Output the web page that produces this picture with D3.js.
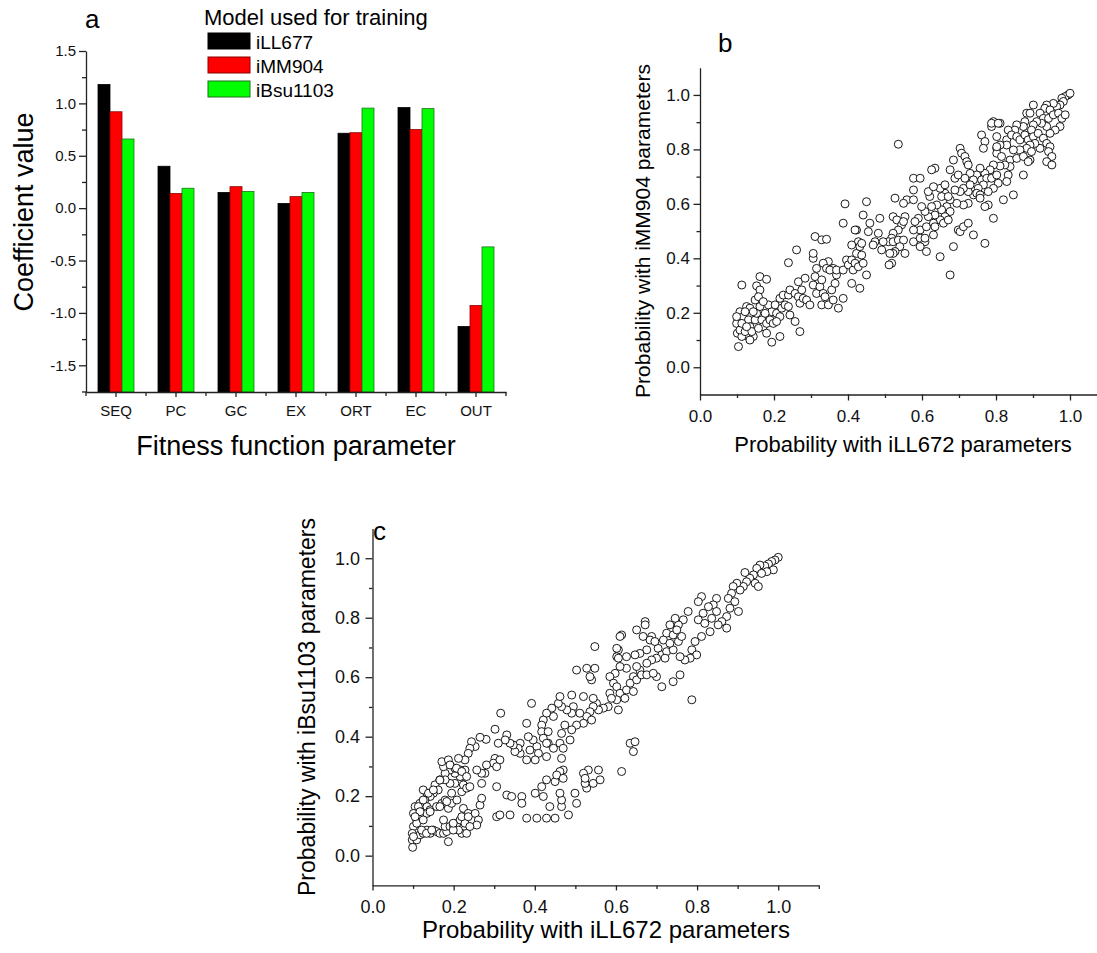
<!DOCTYPE html>
<html>
<head>
<meta charset="utf-8">
<style>
body { margin: 0; background: #fff; }
svg { font-family: "Liberation Sans", Arial, Helvetica, sans-serif; }
</style>
</head>
<body>
<svg width="1097" height="953"></svg>
<script src="https://d3js.org/d3.v7.min.js"></script>
<script>
// panel a: coefficients per fitness function parameter
var categories = ["SEQ", "PC", "GC", "EX", "ORT", "EC", "OUT"];
var models = ["iLL677", "iMM904", "iBsu1103"];
var iLL677 = [1.18, 0.40, 0.15, 0.045, 0.715, 0.96, -1.13];
var iMM904 = [0.92, 0.14, 0.205, 0.11, 0.72, 0.75, -0.93];
var iBsu1103 = [0.66, 0.19, 0.16, 0.15, 0.955, 0.95, -0.37];
var fills = ["#000000", "#ff0000", "#00ff00"];
var edges = ["#000000", "#8a0000", "#1f6f1f"];
var coefTicks = [-1.5, -1.0, -0.5, 0.0, 0.5, 1.0, 1.5];
var coefMinor = [-1.75, -1.25, -0.75, -0.25, 0.25, 0.75, 1.25];
var probTicks = [0.0, 0.2, 0.4, 0.6, 0.8, 1.0];
var probMinorX = [0.1, 0.3, 0.5, 0.7, 0.9, 1.1];
var probMinorY = [0.1, 0.3, 0.5, 0.7, 0.9];

// panel b: [iLL672, iMM904]
var probB = [
[0.104,0.076],[0.099,0.161],[0.101,0.125],[0.108,0.204],[0.117,0.186],[0.126,0.223],[0.135,0.217],[0.131,0.174],[0.135,0.149],[0.131,0.113],
[0.144,0.113],[0.135,0.100],[0.113,0.113],[0.149,0.174],[0.153,0.198],[0.162,0.223],[0.167,0.174],[0.171,0.149],[0.180,0.161],[0.189,0.174],
[0.194,0.204],[0.185,0.229],[0.203,0.229],[0.207,0.198],[0.216,0.186],[0.221,0.217],[0.230,0.229],[0.239,0.223],[0.243,0.192],[0.257,0.168],
[0.216,0.253],[0.225,0.265],[0.239,0.265],[0.243,0.284],[0.257,0.271],[0.266,0.259],[0.270,0.235],[0.279,0.253],[0.288,0.247],[0.297,0.229],
[0.275,0.284],[0.266,0.314],[0.284,0.327],[0.306,0.302],[0.315,0.271],[0.324,0.296],[0.311,0.333],[0.329,0.321],[0.333,0.271],[0.338,0.259],
[0.329,0.229],[0.347,0.229],[0.360,0.247],[0.374,0.217],[0.387,0.253],[0.356,0.284],[0.365,0.308],[0.369,0.339],[0.360,0.363],[0.347,0.388],
[0.333,0.382],[0.315,0.363],[0.306,0.400],[0.306,0.418],[0.311,0.480],[0.329,0.468],[0.342,0.470],[0.342,0.363],[0.351,0.357],[0.369,0.357],
[0.387,0.357],[0.396,0.394],[0.401,0.376],[0.410,0.394],[0.414,0.357],[0.423,0.418],[0.419,0.382],[0.428,0.369],
[0.410,0.308],[0.432,0.290],[0.387,0.529],[0.392,0.600],[0.423,0.504],[0.428,0.461],[0.432,0.443],[0.410,0.449],[0.419,0.504],
[0.162,0.333],[0.180,0.323],[0.153,0.299],[0.162,0.284],[0.113,0.302],[0.149,0.247],[0.158,0.259],[0.171,0.241],[0.180,0.125],[0.194,0.092],
[0.216,0.113],[0.270,0.131],[0.239,0.384],[0.261,0.431],[0.198,0.161],
[0.108,0.137],[0.122,0.131],[0.140,0.131],[0.158,0.143],[0.144,0.204],[0.176,0.198],[0.122,0.204],[0.099,0.186],[0.113,0.161],[0.126,0.149],[0.207,0.168],
[0.995,1.000],[0.987,0.994],[0.978,0.988],[1.000,1.006],[0.982,0.976],[0.973,0.963],[0.964,0.957],[0.955,0.969],[0.937,0.963],[0.932,0.951],
[0.946,0.945],[0.901,0.963],[0.883,0.933],[0.892,0.933],[0.919,0.933],[0.928,0.914],[0.942,0.914],[0.955,0.927],[0.969,0.933],[0.978,0.914],
[0.987,0.927],[0.973,0.884],[0.960,0.871],[0.946,0.859],[0.937,0.884],[0.923,0.896],[0.910,0.902],[0.901,0.890],[0.896,0.871],[0.878,0.902],
[0.874,0.884],[0.856,0.890],[0.851,0.871],[0.833,0.871],[0.811,0.896],[0.793,0.902],[0.788,0.884],[0.802,0.847],[0.829,0.835],[0.842,0.853],
[0.856,0.847],[0.865,0.835],[0.878,0.853],[0.887,0.835],[0.901,0.847],[0.914,0.859],[0.928,0.841],[0.937,0.822],[0.946,0.810],[0.942,0.792],
[0.951,0.774],[0.937,0.755],[0.951,0.743],[0.919,0.804],[0.905,0.822],[0.892,0.816],[0.883,0.804],[0.865,0.798],[0.847,0.798],[0.829,0.816],
[0.811,0.816],[0.802,0.804],[0.802,0.786],[0.815,0.774],[0.838,0.761],[0.856,0.767],[0.874,0.774],[0.892,0.761],[0.896,0.792],[0.887,0.755],
[0.874,0.706],[0.838,0.737],[0.824,0.743],[0.811,0.739],[0.793,0.743],[0.784,0.725],[0.770,0.712],[0.757,0.731],[0.748,0.706],[0.761,0.688],
[0.775,0.694],[0.788,0.694],[0.802,0.706],[0.806,0.676],[0.833,0.706],[0.829,0.682],[0.793,0.657],[0.779,0.645],[0.766,0.670],[0.752,0.657],
[0.739,0.633],[0.725,0.645],[0.712,0.657],[0.703,0.645],[0.689,0.694],[0.698,0.706],[0.689,0.651],[0.676,0.725],[0.685,0.761],[0.703,0.804],
[0.707,0.786],[0.716,0.774],[0.721,0.755],[0.725,0.743],[0.761,0.853],[0.770,0.829],[0.766,0.804],[0.788,0.896],[0.806,0.896],[0.802,0.810],
[0.730,0.712],[0.716,0.694],[0.739,0.688],[0.730,0.670],[0.748,0.639],[0.757,0.633],[0.779,0.596],[0.770,0.590],[0.757,0.621],[0.820,0.615],
[0.847,0.633],[0.793,0.547],[0.725,0.602],[0.712,0.596],[0.694,0.602],[0.676,0.615],[0.662,0.639],[0.649,0.657],[0.653,0.627],[0.667,0.590],
[0.653,0.578],[0.640,0.596],[0.626,0.590],[0.621,0.627],[0.617,0.645],[0.631,0.663],[0.635,0.731],[0.626,0.725],[0.662,0.670],[0.671,0.627],
[0.676,0.572],[0.662,0.553],[0.649,0.541],[0.635,0.559],[0.617,0.553],[0.608,0.572],[0.599,0.590],[0.590,0.547],[0.581,0.535],[0.595,0.504],
[0.612,0.516],[0.631,0.529],[0.658,0.529],[0.671,0.541],[0.577,0.694],[0.595,0.694],[0.577,0.651],[0.559,0.615],[0.577,0.615],[0.550,0.602],
[0.527,0.621],[0.522,0.553],[0.532,0.541],[0.545,0.523],[0.554,0.553],[0.550,0.535],[0.536,0.504],[0.522,0.492],[0.518,0.474],[0.509,0.461],
[0.522,0.461],[0.536,0.467],[0.550,0.467],[0.540,0.443],[0.527,0.425],[0.522,0.418],[0.513,0.418],[0.554,0.418],[0.577,0.504],[0.577,0.461],
[0.595,0.474],[0.608,0.461],[0.595,0.443],[0.612,0.425],[0.608,0.474],[0.631,0.486],[0.635,0.516],[0.649,0.406],[0.685,0.443],[0.698,0.504],
[0.703,0.498],[0.712,0.516],[0.725,0.529],[0.739,0.486],[0.770,0.455],[0.676,0.339],[0.536,0.819],[0.450,0.608],[0.441,0.559],[0.486,0.547],
[0.459,0.529],[0.455,0.498],[0.482,0.492],[0.473,0.461],[0.468,0.449],[0.495,0.461],[0.491,0.431],[0.518,0.382],[0.511,0.376],[0.450,0.339],
[0.441,0.382],[0.437,0.412],[0.437,0.455]
];

// panel c: [iLL672, iBsu1103]
var probC = [
[1.000,1.003],[0.992,0.994],[0.984,0.989],[0.976,0.981],[0.967,0.974],[0.988,0.961],[0.972,0.955],[0.955,0.977],[0.947,0.966],[0.959,0.949],
[0.939,0.944],[0.930,0.933],[0.943,0.916],[0.951,0.905],[0.918,0.952],[0.922,0.921],[0.914,0.905],[0.906,0.893],[0.898,0.916],[0.889,0.905],
[0.885,0.882],[0.877,0.865],[0.893,0.854],[0.902,0.821],[0.881,0.832],[0.873,0.804],[0.861,0.787],[0.873,0.765],[0.848,0.865],[0.840,0.843],
[0.828,0.837],[0.811,0.871],[0.803,0.854],[0.815,0.815],[0.803,0.793],[0.819,0.781],[0.836,0.798],[0.848,0.821],[0.852,0.776],[0.832,0.753],
[0.811,0.737],[0.795,0.720],[0.787,0.692],[0.799,0.675],[0.783,0.664],[0.770,0.658],[0.758,0.669],[0.778,0.821],[0.766,0.793],[0.754,0.776],
[0.746,0.798],[0.733,0.776],[0.725,0.748],[0.717,0.725],[0.704,0.697],[0.713,0.675],[0.725,0.686],[0.741,0.692],[0.754,0.720],[0.741,0.742],
[0.762,0.737],[0.750,0.759],[0.733,0.714],[0.721,0.664],[0.700,0.664],[0.688,0.658],[0.676,0.647],[0.659,0.624],[0.651,0.636],[0.667,0.737],
[0.688,0.737],[0.672,0.787],[0.684,0.725],[0.696,0.720],[0.676,0.692],[0.659,0.680],[0.647,0.675],[0.626,0.669],[0.606,0.692],[0.602,0.669],
[0.614,0.742],[0.651,0.759],[0.672,0.776],[0.626,0.630],[0.610,0.636],[0.598,0.613],[0.585,0.602],[0.594,0.580],[0.585,0.546],[0.602,0.568],
[0.610,0.546],[0.626,0.557],[0.643,0.602],[0.635,0.580],[0.651,0.591],[0.663,0.608],[0.676,0.608],[0.700,0.602],[0.713,0.568],[0.741,0.585],
[0.758,0.608],[0.787,0.524],[0.622,0.529],[0.643,0.552],[0.602,0.524],[0.589,0.529],[0.606,0.490],[0.581,0.501],[0.569,0.496],[0.552,0.512],
[0.557,0.490],[0.544,0.501],[0.536,0.484],[0.528,0.468],[0.540,0.456],[0.520,0.445],[0.511,0.479],[0.495,0.501],[0.491,0.479],[0.479,0.490],
[0.466,0.501],[0.458,0.512],[0.462,0.535],[0.491,0.540],[0.520,0.535],[0.544,0.529],[0.540,0.591],[0.503,0.624],[0.528,0.630],[0.548,0.630],
[0.536,0.602],[0.548,0.703],[0.602,0.697],[0.606,0.664],[0.610,0.737],[0.692,0.613],[0.503,0.439],[0.491,0.423],[0.474,0.439],[0.466,0.411],
[0.446,0.468],[0.442,0.496],[0.429,0.479],[0.421,0.456],[0.417,0.439],[0.417,0.417],[0.433,0.417],[0.421,0.395],[0.433,0.378],[0.405,0.367],
[0.396,0.389],[0.384,0.400],[0.380,0.445],[0.392,0.512],[0.429,0.378],[0.446,0.361],[0.462,0.378],[0.470,0.361],[0.487,0.389],[0.466,0.327],
[0.470,0.288],[0.462,0.283],[0.450,0.249],[0.429,0.255],[0.429,0.333],[0.409,0.344],[0.401,0.322],[0.388,0.355],[0.380,0.322],[0.364,0.344],
[0.364,0.378],[0.359,0.361],[0.351,0.350],[0.347,0.372],[0.339,0.378],[0.331,0.406],[0.327,0.389],[0.310,0.378],[0.302,0.327],[0.298,0.311],
[0.314,0.322],[0.306,0.299],[0.281,0.305],[0.277,0.277],[0.269,0.243],[0.269,0.277],[0.257,0.288],[0.253,0.367],[0.244,0.383],[0.240,0.361],
[0.236,0.344],[0.228,0.288],[0.224,0.266],[0.216,0.266],[0.203,0.243],[0.191,0.243],[0.195,0.210],[0.203,0.277],[0.191,0.288],[0.179,0.277],
[0.175,0.299],[0.171,0.316],[0.187,0.322],[0.203,0.294],[0.216,0.288],[0.228,0.322],[0.212,0.327],[0.179,0.255],[0.166,0.255],[0.154,0.238],
[0.162,0.221],[0.150,0.210],[0.142,0.199],[0.134,0.210],[0.125,0.221],[0.129,0.187],[0.134,0.165],[0.117,0.176],[0.113,0.154],[0.105,0.165],
[0.101,0.142],[0.109,0.120],[0.121,0.131],[0.134,0.142],[0.142,0.154],[0.158,0.165],[0.171,0.176],[0.179,0.187],[0.187,0.159],[0.195,0.176],
[0.208,0.187],[0.220,0.215],[0.224,0.238],[0.232,0.227],[0.240,0.232],[0.101,0.098],[0.098,0.075],[0.098,0.053],[0.099,0.028],[0.109,0.053],
[0.117,0.070],[0.125,0.075],[0.134,0.086],[0.142,0.075],[0.150,0.086],[0.158,0.081],[0.166,0.075],[0.175,0.075],[0.183,0.081],[0.187,0.047],
[0.179,0.098],[0.191,0.098],[0.199,0.103],[0.208,0.109],[0.216,0.120],[0.228,0.109],[0.220,0.075],[0.232,0.075],[0.212,0.086],[0.199,0.086],
[0.224,0.159],[0.220,0.131],[0.236,0.142],[0.253,0.142],[0.261,0.120],[0.257,0.103],[0.265,0.170],[0.269,0.193],[0.306,0.232],[0.306,0.131],
[0.314,0.137],[0.339,0.137],[0.331,0.204],[0.343,0.199],[0.368,0.199],[0.368,0.176],[0.401,0.210],[0.421,0.199],[0.417,0.232],[0.437,0.165],
[0.466,0.165],[0.466,0.187],[0.462,0.210],[0.499,0.210],[0.503,0.176],[0.528,0.227],[0.524,0.243],[0.544,0.243],[0.561,0.255],[0.557,0.288],
[0.532,0.288],[0.520,0.277],[0.524,0.260],[0.454,0.271],[0.470,0.260],[0.614,0.283],[0.635,0.378],[0.647,0.383],[0.643,0.350],[0.483,0.137],
[0.450,0.126],[0.429,0.126],[0.405,0.126],[0.380,0.126],[0.240,0.098],[0.236,0.131],
[0.109,0.109],[0.121,0.086],[0.133,0.075],[0.146,0.086],[0.125,0.120],[0.113,0.165],[0.125,0.187],[0.138,0.210],[0.150,0.221],[0.166,0.254],
[0.191,0.305],[0.207,0.294],[0.220,0.283],[0.232,0.266],[0.117,0.148],[0.105,0.131],[0.101,0.064],[0.142,0.148],[0.166,0.165],[0.183,0.182],
[0.175,0.120],[0.199,0.109],[0.316,0.479],[0.302,0.425],[0.280,0.391],[0.265,0.398]
];

var svg = d3.select("svg");
var fmt = function(d) { return d.toFixed(1); };

function styleAxis(g, fs) {
  g.attr("font-size", fs).attr("font-family", null);
  g.selectAll("path, line").attr("stroke", "#222").attr("stroke-width", 1.3);
  g.selectAll("text").attr("fill", "#111");
}

// ---------- panel a ----------
var xA = d3.scaleBand().domain(categories).range([86, 506]).paddingInner(0.4).paddingOuter(0.2);
var xSub = d3.scaleBand().domain(models).range([0, xA.bandwidth()]);
var yA = d3.scaleLinear().domain([-1.755, 1.5]).range([392, 51]);
var series = [iLL677, iMM904, iBsu1103];

series.forEach(function(vals, s) {
  svg.append("g").selectAll("rect").data(vals).enter().append("rect")
    .attr("x", function(d, i) { return xA(categories[i]) + xSub(models[s]); })
    .attr("y", function(d) { return yA(d); })
    .attr("width", xSub.bandwidth())
    .attr("height", function(d) { return yA.range()[0] - yA(d); })
    .attr("fill", fills[s])
    .attr("stroke", edges[s])
    .attr("stroke-width", 0.8);
});

var gyA = svg.append("g").attr("transform", "translate(86,0)")
  .call(d3.axisLeft(yA).tickValues(coefTicks).tickFormat(fmt).tickSize(7).tickSizeOuter(0).tickPadding(3));
styleAxis(gyA, 15);
var gyAm = svg.append("g").attr("transform", "translate(86,0)")
  .call(d3.axisLeft(yA).tickValues(coefMinor).tickFormat("").tickSize(4));
gyAm.select(".domain").remove();
styleAxis(gyAm, 15);

var gxA = svg.append("g").attr("transform", "translate(0,392)")
  .call(d3.axisBottom(xA).tickSize(5).tickSizeOuter(0).tickPadding(8));
styleAxis(gxA, 15);
svg.append("g").selectAll("line").data(d3.range(categories.length + 1)).enter().append("line")
  .attr("x1", function(i) { return xA.range()[0] + i * xA.step(); })
  .attr("x2", function(i) { return xA.range()[0] + i * xA.step(); })
  .attr("y1", 392).attr("y2", 396)
  .attr("stroke", "#222").attr("stroke-width", 1.3);

svg.append("text").attr("x", 85).attr("y", 28).attr("font-size", 26).text("a");
svg.append("text").attr("transform", "translate(33,212) rotate(-90)")
  .attr("text-anchor", "middle").attr("font-size", 27).text("Coefficient value");
svg.append("text").attr("x", 296).attr("y", 455)
  .attr("text-anchor", "middle").attr("font-size", 27).text("Fitness function parameter");

// legend
svg.append("text").attr("x", 204).attr("y", 25).attr("font-size", 22).text("Model used for training");
var leg = svg.append("g").selectAll("g").data(models).enter().append("g")
  .attr("transform", function(d, i) { return "translate(208," + (33 + i * 24) + ")"; });
leg.append("rect").attr("width", 42).attr("height", 16)
  .attr("fill", function(d, i) { return fills[i]; })
  .attr("stroke", function(d, i) { return edges[i]; }).attr("stroke-width", 1);
leg.append("text").attr("x", 48).attr("y", 16).attr("font-size", 19).text(function(d) { return d; });

// ---------- scatter panels ----------
function scatter(pts, xs, ys, tickFs, yPad, xPad, yTick, xTick) {
  var x0 = xs.range()[0], y0 = ys.range()[0];
  var gy = svg.append("g").attr("transform", "translate(" + x0 + ",0)")
    .call(d3.axisLeft(ys).tickValues(probTicks).tickFormat(fmt).tickSize(yTick).tickSizeOuter(0).tickPadding(yPad));
  styleAxis(gy, tickFs);
  var gym = svg.append("g").attr("transform", "translate(" + x0 + ",0)")
    .call(d3.axisLeft(ys).tickValues(probMinorY).tickFormat("").tickSize(3.5));
  gym.select(".domain").remove();
  styleAxis(gym, tickFs);
  var gx = svg.append("g").attr("transform", "translate(0," + y0 + ")")
    .call(d3.axisBottom(xs).tickValues(probTicks).tickFormat(fmt).tickSize(xTick).tickSizeOuter(0).tickPadding(xPad));
  styleAxis(gx, tickFs);
  var gxm = svg.append("g").attr("transform", "translate(0," + y0 + ")")
    .call(d3.axisBottom(xs).tickValues(probMinorX).tickFormat("").tickSize(3.5));
  gxm.select(".domain").remove();
  styleAxis(gxm, tickFs);

  svg.append("g").selectAll("circle").data(pts).enter().append("circle")
    .attr("cx", function(d) { return xs(d[0]); })
    .attr("cy", function(d) { return ys(d[1]); })
    .attr("r", 4)
    .attr("fill", "#fff")
    .attr("stroke", "#000")
    .attr("stroke-width", 0.9);
}

var xB = d3.scaleLinear().domain([0, 1.1]).range([700, 1107]);
var yB = d3.scaleLinear().domain([-0.1, 1.1]).range([394.5, 67.7]);
scatter(probB, xB, yB, 17, 3.5, 9, 6.5, 6);
svg.append("text").attr("x", 718).attr("y", 52).attr("font-size", 26).text("b");
svg.append("text").attr("transform", "translate(650,231) rotate(-90)")
  .attr("text-anchor", "middle").attr("font-size", 21).text("Probability with iMM904 parameters");
svg.append("text").attr("x", 903).attr("y", 452)
  .attr("text-anchor", "middle").attr("font-size", 22).text("Probability with iLL672 parameters");

var xC = d3.scaleLinear().domain([0, 1.1]).range([372.5, 818.8]);
var yC = d3.scaleLinear().domain([-0.1, 1.1]).range([885.4, 528.5]);
scatter(probC, xC, yC, 18, 5.5, 10, 7, 5);
svg.append("text").attr("x", 373).attr("y", 540).attr("font-size", 26).text("c");
svg.append("text").attr("transform", "translate(315,707) rotate(-90)")
  .attr("text-anchor", "middle").attr("font-size", 23).text("Probability with iBsu1103 parameters");
svg.append("text").attr("x", 606).attr("y", 938)
  .attr("text-anchor", "middle").attr("font-size", 24).text("Probability with iLL672 parameters");
</script>
</body>
</html>
